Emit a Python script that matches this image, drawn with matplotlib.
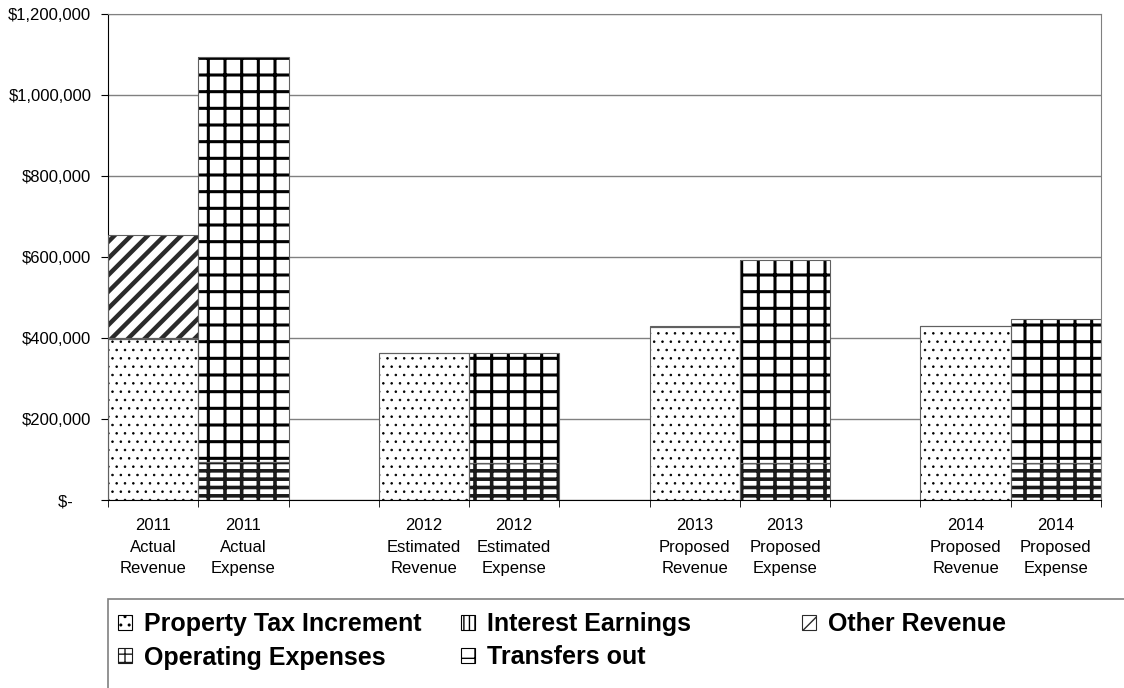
import numpy as np
import matplotlib.pyplot as plt
from matplotlib.patches import Rectangle, Patch
from matplotlib.ticker import FuncFormatter

plt.rcParams['font.family'] = ['Liberation Sans', 'DejaVu Sans']

categories = ["2011\nActual\nRevenue", "2011\nActual\nExpense", "",
              "2012\nEstimated\nRevenue", "2012\nEstimated\nExpense", "",
              "2013\nProposed\nRevenue", "2013\nProposed\nExpense", "",
              "2014\nProposed\nRevenue", "2014\nProposed\nExpense"]
property_tax = [397000, 0, 0, 362000, 0, 0, 428000, 0, 0, 429000, 0]
interest = [3000, 0, 0, 2000, 0, 0, 1000, 0, 0, 1000, 0]
other_revenue = [254000, 0, 0, 0, 0, 0, 0, 0, 0, 0, 0]
operating = [0, 95000, 0, 0, 91000, 0, 0, 91000, 0, 0, 91000]
transfers = [0, 999000, 0, 0, 272000, 0, 0, 501000, 0, 0, 355000]
yticks = [0, 200000, 400000, 600000, 800000, 1000000, 1200000]

series = [("Property Tax Increment", property_tax),
          ("Interest Earnings", interest),
          ("Other Revenue", other_revenue),
          ("Operating Expenses", operating),
          ("Transfers out", transfers)]

# hatch, hatch colour, hatch line width
styles = {
    "Property Tax Increment": ('..', 'black', 0.6),
    "Interest Earnings": ('|||', 'black', 1.0),
    "Other Revenue": ('//', '#2a2a2a', 3.2),
    "Operating Expenses": ('--|', '#1a1a1a', 2.6),
    "Transfers out": ('+', 'black', 2.2),
}


def set_hlw(patch, lw):
    try:
        patch.set_hatch_linewidth(lw)
    except AttributeError:
        pass


fig = plt.figure(figsize=(11.24, 6.88), dpi=100)
ax = fig.add_axes([108 / 1124, 1 - 500 / 688, (1101 - 108) / 1124, (500 - 14) / 688])

x = np.arange(len(categories))
bottom = np.zeros(len(categories))
handles = {}
for name, vals in series:
    hatch, color, hlw = styles[name]
    vals = np.array(vals, dtype=float)
    keep = vals > 0
    with plt.rc_context({'hatch.linewidth': hlw}):
        bars = ax.bar(x[keep], vals[keep], width=1.0, bottom=bottom[keep],
                      color='white', edgecolor=color, linewidth=0,
                      hatch=hatch, zorder=2)
        for b in bars:
            set_hlw(b, hlw)
        h = Patch(facecolor='white', edgecolor=color, hatch=hatch, linewidth=0.8)
        set_hlw(h, min(hlw, 1.2))
        handles[name] = h
    ax.bar(x[keep], vals[keep], width=1.0, bottom=bottom[keep], fill=False,
           edgecolor='#606060', linewidth=0.8, zorder=3)
    bottom += vals

ax.set_xlim(-0.5, len(categories) - 0.5)
ax.set_ylim(0, 1200000)
ax.set_yticks(yticks)
ax.yaxis.set_major_formatter(FuncFormatter(
    lambda v, p: "$-    " if v == 0 else "${:,.0f}".format(v)))
ax.yaxis.grid(True, color='#808080', linewidth=1.0, zorder=0)
ax.set_axisbelow(True)

ax.set_xticks(x)
ax.set_xticklabels(categories, linespacing=1.55)
ax.set_xticks(np.arange(len(categories) + 1) - 0.5, minor=True)
ax.tick_params(axis='x', which='major', length=0, pad=13, labelsize=12)
ax.tick_params(axis='x', which='minor', length=5, direction='out', color='black')
ax.tick_params(axis='y', length=5, direction='out', pad=7, labelsize=12)

for s in ['top', 'right']:
    ax.spines[s].set_color('#808080')
for s in ['left', 'bottom']:
    ax.spines[s].set_color('black')

# legend frame running off the figure edge
fig.add_artist(Rectangle((108 / 1124, -0.2), 1.0, 0.2 + 1 - 599 / 688,
                         transform=fig.transFigure, fill=False,
                         edgecolor='#808080', linewidth=1.2))

columns = [(["Property Tax Increment", "Operating Expenses"], 118),
           (["Interest Earnings", "Transfers out"], 461),
           (["Other Revenue"], 802)]
for names, xpix in columns:
    leg = fig.legend([handles[n] for n in names], names, loc='upper left',
                     bbox_to_anchor=(xpix / 1124, 1 - 612 / 688),
                     frameon=False, borderpad=0, borderaxespad=0,
                     handlelength=0.56, handleheight=0.56, handletextpad=0.48,
                     labelspacing=0.38, prop={'weight': 'bold', 'size': 18})

fig.savefig('out.png', dpi=100)
